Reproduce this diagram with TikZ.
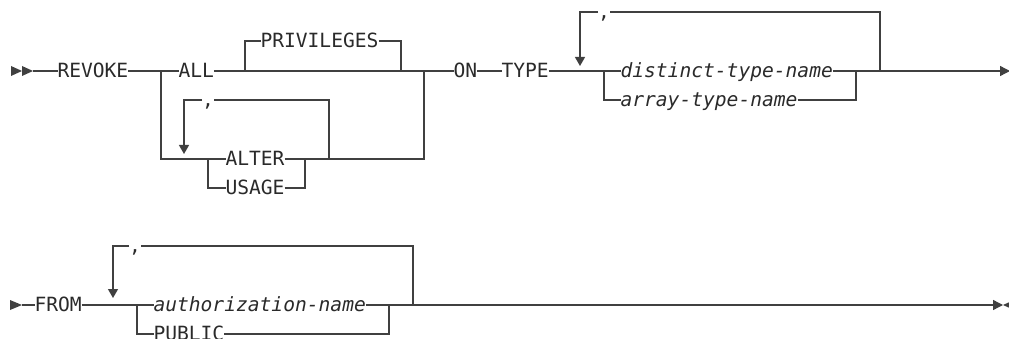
\documentclass[tikz,border=0pt]{standalone}
\usepackage{fontspec}
\newfontfamily\rrfont{DejaVu Sans Mono}
\usetikzlibrary{arrows.meta}
\definecolor{rrline}{HTML}{404040}
\definecolor{rrtext}{HTML}{2A2A2A}
\tikzset{
  kw/.style={font=\rrfont\fontsize{19.6pt}{20pt}\selectfont, text=rrtext, inner sep=0pt, outer sep=0pt, text height=13pt, text depth=0pt, anchor=west},
  var/.style={kw, font=\rrfont\fontsize{19.6pt}{20pt}\selectfont\itshape},
  rail/.style={draw=rrline, line width=1.3pt},
  downarr/.style={rail, -{Triangle[width=10pt,length=9pt]}},
  endarr/.style={rail, -{Triangle[width=10pt,length=10pt]}},
  rrtip/.style={fill=rrline}
}
\begin{document}
\begin{tikzpicture}[x=1pt,y=-1pt]
\useasboundingbox (0,0) rectangle (1009,339);
% ---------- row 1 ----------
\node[kw] (revoke) at (57.5,71) {REVOKE};
\node[kw] (all) at (178.5,71) {ALL};
\node[kw] (priv) at (260.5,41) {PRIVILEGES};
\node[kw] (alter) at (225.5,159) {ALTER};
\node[kw] (usage) at (225.5,188) {USAGE};
\node[kw] (comA) at (202,100) {,};
\node[kw] (on) at (453.5,71) {ON};
\node[kw] (type) at (501.5,71) {TYPE};
\node[var] (dtn) at (620.5,71) {distinct-type-name};
\node[var] (atn) at (620.5,100) {array-type-name};
\node[kw] (comT) at (598,12) {,};
\coordinate (st1) at (33,71);
\coordinate (bA) at (161,71);
\coordinate (pL) at (245,71);
\coordinate (pR) at (401,71);
\coordinate (oR) at (424,71);
\coordinate (iL) at (208,159);
\coordinate (iR) at (305,159);
\coordinate (rA) at (329,159);
\coordinate (tipA) at (184,154);
\coordinate (bT) at (604,71);
\coordinate (cT) at (856,71);
\coordinate (rT) at (880,71);
\coordinate (tipT) at (580,66);
\coordinate (end1) at (1010,71);
\fill[rrtip] (11,66) -- (22,71) -- (11,76) -- cycle;
\fill[rrtip] (22,66) -- (st1) -- (22,76) -- cycle;
\draw[rail] (st1) -- (revoke.west);
\draw[rail] (revoke.east) -- (all.west);
\draw[rail] (all.east) -- (on.west);
\draw[rail] (pL) |- (priv.west);
\draw[rail] (priv.east) -| (pR);
\draw[rail] (bA) |- (alter.west);
\draw[rail] (iL) |- (usage.west);
\draw[rail] (usage.east) -| (iR);
\draw[rail] (alter.east) -| (oR);
\draw[rail] (rA) |- (comA.east);
\draw[downarr] (comA.west) -| (tipA);
\draw[rail] (on.east) -- (type.west);
\draw[rail] (type.east) -- (dtn.west);
\draw[rail] (bT) |- (atn.west);
\draw[rail] (atn.east) -| (cT);
\draw[endarr] (dtn.east) -- (end1);
\draw[rail] (rT) |- (comT.east);
\draw[downarr] (comT.west) -| (tipT);
% ---------- row 2 ----------
\node[kw] (from) at (34.5,305) {FROM};
\node[var] (auth) at (153.5,305) {authorization-name};
\node[kw] (public) at (153.5,334) {PUBLIC};
\node[kw] (comF) at (129,246) {,};
\coordinate (st2) at (22,305);
\coordinate (bF) at (137,305);
\coordinate (cF) at (389,305);
\coordinate (rF) at (413,305);
\coordinate (tipF) at (113,298);
\coordinate (end2) at (1003,305);
\fill[rrtip] (10,300) -- (st2) -- (10,310) -- cycle;
\draw[rail] (st2) -- (from.west);
\draw[rail] (from.east) -- (auth.west);
\draw[rail] (bF) |- (public.west);
\draw[rail] (public.east) -| (cF);
\draw[rail] (rF) |- (comF.east);
\draw[downarr] (comF.west) -| (tipF);
\draw[endarr] (auth.east) -- (end2);
\fill[rrtip] (end2) -- (1014,300) -- (1014,310) -- cycle;
\end{tikzpicture}
\end{document}
